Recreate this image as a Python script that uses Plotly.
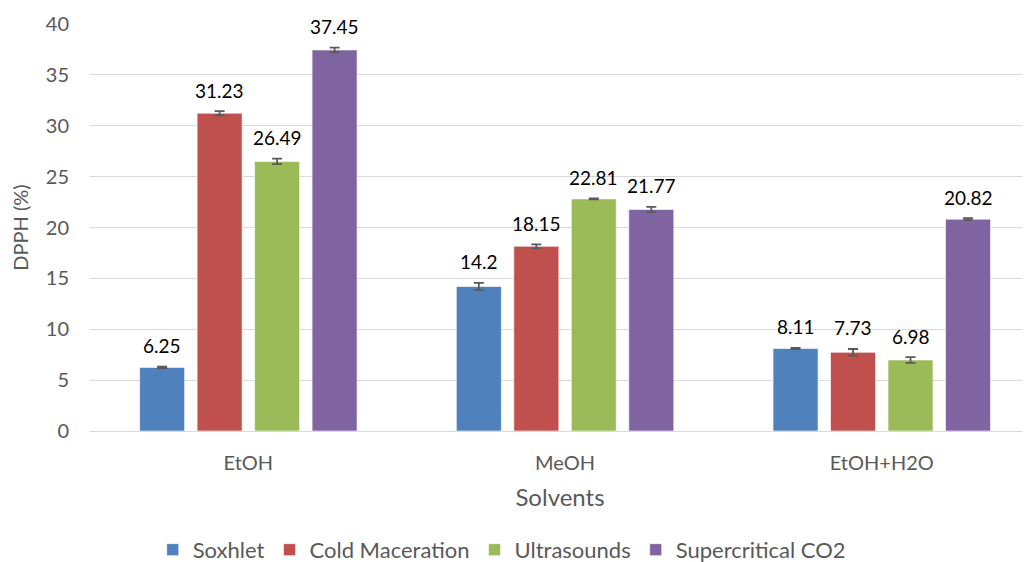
import plotly.graph_objects as go

categories = ["EtOH", "MeOH", "EtOH+H2O"]
series_names = ["Soxhlet", "Cold Maceration", "Ultrasounds", "Supercritical CO2"]
soxhlet = [6.25, 14.2, 8.11]
cold_maceration = [31.23, 18.15, 7.73]
ultrasounds = [26.49, 22.81, 6.98]
supercritical = [37.45, 21.77, 20.82]
soxhlet_err = [0.08, 0.36, 0.05]
cold_err = [0.2, 0.2, 0.33]
ultra_err = [0.27, 0.05, 0.28]
super_err = [0.23, 0.26, 0.1]
labels = [["6.25", "14.2", "8.11"], ["31.23", "18.15", "7.73"],
          ["26.49", "22.81", "6.98"], ["37.45", "21.77", "20.82"]]

values = [soxhlet, cold_maceration, ultrasounds, supercritical]
errors = [soxhlet_err, cold_err, ultra_err, super_err]
colors = ["#4F81BD", "#C0504D", "#9BBB59", "#8064A2"]

FONT = "Lato"
fig = go.Figure()
for name, vals, errs, col in zip(series_names, values, errors, colors):
    fig.add_trace(go.Bar(
        x=categories, y=vals, name=name,
        marker=dict(color=col, line=dict(color="rgba(255,255,255,0.6)", width=1)),
        error_y=dict(type="data", array=errs, visible=True, color="#595959",
                     thickness=1.8, width=5),
    ))

step = 57.5
for i, (lab, vals, errs) in enumerate(zip(labels, values, errors)):
    for j, cat in enumerate(categories):
        fig.add_annotation(
            x=cat, y=vals[j] + errs[j], text=lab[j], showarrow=False,
            xref="x", yref="y", xshift=(i - 1.5) * step, yshift=21,
            yanchor="middle", font=dict(family=FONT, size=19, color="#000000"),
        )

fig.update_layout(
    width=1030, height=562,
    margin=dict(l=82, r=8, t=16, b=139, autoexpand=False),
    plot_bgcolor="white", paper_bgcolor="white",
    barmode="group", bargap=0.274, bargroupgap=0.217,
    font=dict(family=FONT, color="#595959", size=18),
    showlegend=True,
    legend=dict(orientation="h", x=0.438, xanchor="center", y=-0.292, yanchor="middle",
                font=dict(family=FONT, size=22, color="#595959"),
                itemwidth=30, traceorder="normal"),
    xaxis=dict(range=[-0.5, 2.468], showgrid=False, showline=True, automargin=False,
               linecolor="#D9D9D9", linewidth=1, ticks="", ticklabelstandoff=14,
               tickfont=dict(family=FONT, size=20, color="#595959"),
               title=dict(text="Solvents", font=dict(family=FONT, size=24, color="#595959"),
                          standoff=16)),
    yaxis=dict(range=[0, 40], dtick=5, showgrid=True, gridcolor="#D9D9D9", gridwidth=1,
               automargin=False,
               zeroline=False, showline=False, ticks="", ticklabelstandoff=20,
               tickfont=dict(family=FONT, size=20, color="#595959"),
               title=dict(text="DPPH (%)", font=dict(family=FONT, size=20, color="#595959"),
                          standoff=12)),
)

fig.write_html("out.html")
